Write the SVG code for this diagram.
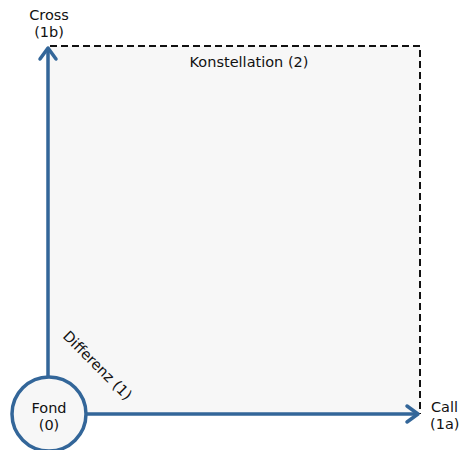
<svg xmlns="http://www.w3.org/2000/svg" width="459" height="450" viewBox="0 0 459 450">
  <style>
    .lbl { font-family: "DejaVu Sans", Verdana, sans-serif; font-size: 14.5px; fill: #111; text-anchor: middle; }
    .side { text-anchor: start; }
    .axis { stroke: #336699; stroke-width: 3.5; fill: none; }
    .head { stroke: #336699; stroke-width: 3.5; fill: none; stroke-linecap: round; stroke-linejoin: round; }
    .frame { stroke: #111; stroke-width: 2; stroke-dasharray: 7 4; fill: none; }
  </style>
  <rect width="459" height="450" fill="#ffffff"/>

  <g id="konstellation">
    <rect x="48" y="46" width="372" height="368" fill="#f7f7f7"/>
    <polyline class="frame" points="50,46 420,46 420,414"/>
    <text class="lbl" x="249" y="67">Konstellation (2)</text>
  </g>

  <g id="connectors">
    <line class="axis" x1="48" y1="376" x2="48" y2="48"/>
    <polyline class="head" points="40,59 48,48 56,59"/>
    <line class="axis" x1="86" y1="414" x2="418" y2="414"/>
    <polyline class="head" points="407,406 418,414 407,422"/>
    <text class="lbl" transform="translate(94,369) rotate(45)">Differenz (1)</text>
  </g>

  <g id="fond">
    <circle cx="49" cy="414" r="37" fill="#f7f7f7" stroke="#336699" stroke-width="3.5"/>
    <text class="lbl" x="49" y="413">Fond</text>
    <text class="lbl" x="49" y="430">(0)</text>
  </g>

  <g id="cross">
    <text class="lbl" x="49" y="20">Cross</text>
    <text class="lbl" x="49" y="37">(1b)</text>
  </g>

  <g id="call">
    <text class="lbl side" x="431" y="412">Call</text>
    <text class="lbl side" x="430" y="429">(1a)</text>
  </g>
</svg>
